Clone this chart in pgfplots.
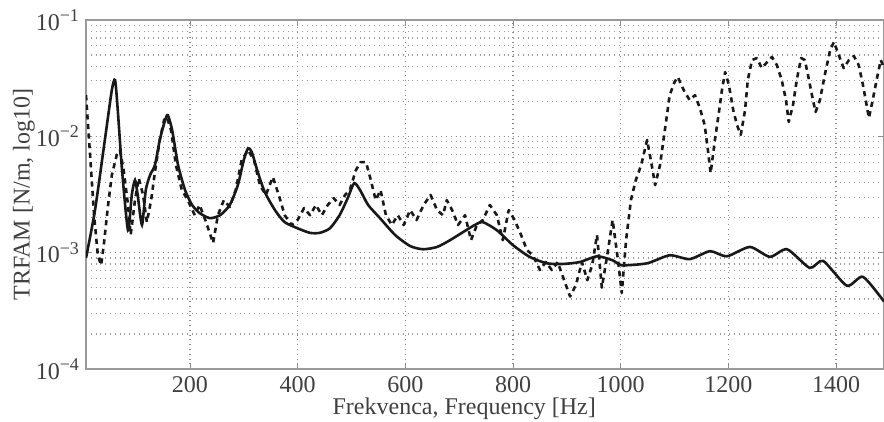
\documentclass[border=0pt]{standalone}
\usepackage{fontspec}
\setmainfont{Liberation Serif}
\usepackage{pgfplots}
\pgfplotsset{compat=1.18}
\newcommand{\pw}[1]{10\raisebox{0.8ex}{\fontsize{9}{10}\selectfont #1}}
\begin{document}
\begin{tikzpicture}
\begin{axis}[
  scale only axis, width=399pt, height=174.5pt,
  xmin=7, xmax=1489, ymode=log, ymin=1e-4, ymax=1e-1,
  xtick={200,400,600,800,1000,1200,1400},
  xticklabels={200,400,600,800,1000,1200,1400},
  ytick={1e-4,1e-3,1e-2,1e-1},
  yticklabels={\pw{−4},\pw{−3},\pw{−2},\pw{−1}},
  tick label style={font=\fontsize{12}{14}\selectfont, text=black!75},
  xlabel={Frekvenca, Frequency [Hz]},
  ylabel={TRFAM [N/m, log10]},
  label style={font=\fontsize{12}{14}\selectfont, text=black!75},
  xlabel style={at={(axis description cs:0.474,0)}, anchor=north, yshift=-11pt},
  ylabel style={at={(axis description cs:-0.0777,0.5)}, anchor=center},
  axis line style={black!40, line width=0.8pt},
  tick style={black!45},
  tick align=inside, major tick length=3pt, minor tick length=0pt,
  xmajorgrids, ymajorgrids, yminorgrids,
  major grid style={dotted, black!45, line width=0.6pt},
  minor grid style={dotted, black!40, line width=0.6pt},
  axis on top=false,
]
% solid curve
\addplot[black!90, line width=1.3pt, smooth, tension=0.4] coordinates {
(7,9.0e-4) (23.6,2.3e-3) (42,9.3e-3) (55,2.5e-2) (61,3.05e-2) (66,1.68e-2)
(74,5.1e-3) (85,1.56e-3) (92,3.13e-3) (98,4.2e-3) (103,3.13e-3) (111,1.73e-3)
(118,3.45e-3) (126,4.65e-3) (135,5.66e-3) (144,9.3e-3) (154,1.38e-2) (159,1.52e-2)
(167,1.13e-2) (178,5.66e-3) (191,3.45e-3) (204,2.57e-3) (218,2.19e-3) (237,1.98e-3)
(256,2.10e-3) (274,2.57e-3) (289,3.81e-3) (300,6.25e-3) (308,7.9e-3) (315,7.3e-3)
(326,4.93e-3) (339,3.32e-3) (358,2.32e-3) (376,1.83e-3) (400,1.62e-3) (423,1.48e-3)
(441,1.48e-3) (460,1.62e-3) (478,2.10e-3) (493,2.94e-3) (505,3.96e-3) (516,3.45e-3)
(531,2.57e-3) (553,1.98e-3) (581,1.42e-3) (609,1.14e-3) (633,1.07e-3) (659,1.12e-3)
(683,1.28e-3) (707,1.50e-3) (729,1.73e-3) (744,1.83e-3) (770,1.56e-3) (800,1.16e-3)
(831,9.2e-4) (863,8.1e-4) (893,8.0e-4) (924,8.3e-4) (956,9.3e-4) (985,8.6e-4)
(1002,7.8e-4) (1049,8.1e-4) (1091,9.5e-4) (1128,8.8e-4) (1166,1.03e-3) (1197,9.3e-4)
(1240,1.12e-3) (1277,9.2e-4) (1309,1.07e-3) (1351,7.4e-4) (1376,8.5e-4) (1420,5.2e-4)
(1450,6.2e-4) (1489,3.8e-4)
};
% dashed curve
\addplot[black!90, line width=1.3pt, dash pattern=on 2.6pt off 2.2pt, line join=round] coordinates {
(7,2.26e-2) (14,7.6e-3) (22,2.10e-3) (29,9.5e-4) (35,7.8e-4) (40,1.16e-3)
(48,2.57e-3) (55,4.65e-3) (64,6.9e-3) (70,7.6e-3) (77,5.1e-3) (85,2.57e-3)
(90,1.42e-3) (98,2.83e-3) (105,4.37e-3) (113,3.13e-3) (120,1.83e-3) (128,2.83e-3)
(135,4.93e-3) (144,9.3e-3) (152,1.38e-2) (157,1.47e-2) (165,1.13e-2) (174,5.66e-3)
(185,3.45e-3) (196,2.83e-3) (209,2.10e-3) (218,2.57e-3) (230,1.83e-3) (243,1.21e-3)
(252,2.10e-3) (263,2.83e-3) (274,2.47e-3) (285,3.45e-3) (296,6.25e-3) (308,7.6e-3)
(319,6.25e-3) (330,3.81e-3) (341,3.13e-3) (354,4.47e-3) (365,3.13e-3) (376,2.10e-3)
(389,1.73e-3) (400,1.91e-3) (412,2.42e-3) (423,2.10e-3) (434,2.57e-3) (445,2.10e-3)
(456,2.57e-3) (467,2.94e-3) (478,2.57e-3) (488,3.13e-3) (497,3.45e-3) (508,5.1e-3)
(517,6.0e-3) (527,6.0e-3) (536,4.2e-3) (545,2.83e-3) (554,3.45e-3) (564,2.10e-3)
(575,1.73e-3) (586,2.10e-3) (597,1.73e-3) (609,2.32e-3) (621,1.91e-3) (634,2.57e-3)
(647,3.13e-3) (659,2.32e-3) (670,2.10e-3) (677,2.83e-3) (687,2.32e-3) (698,1.73e-3)
(711,2.10e-3) (722,1.28e-3) (733,1.73e-3) (744,1.91e-3) (757,2.57e-3) (770,2.10e-3)
(781,1.28e-3) (792,2.32e-3) (803,1.91e-3) (815,1.42e-3) (826,1.05e-3) (837,9.5e-4)
(850,7.1e-4) (861,8.3e-4) (872,7.1e-4) (883,8.3e-4) (895,5.8e-4) (906,4.2e-4)
(917,5.3e-4) (928,8.3e-4) (938,5.8e-4) (947,7.8e-4) (956,1.42e-3) (965,5.0e-4)
(975,9.5e-4) (985,1.91e-3) (995,8.6e-4) (1002,4.5e-4) (1010,1.28e-3) (1019,2.83e-3)
(1028,4.2e-3) (1038,5.66e-3) (1049,9.3e-3) (1056,6.25e-3) (1064,3.81e-3) (1073,5.66e-3)
(1082,1.13e-2) (1091,2.26e-2) (1100,2.93e-2) (1106,3.24e-2) (1117,2.5e-2) (1128,2.05e-2)
(1138,2.26e-2) (1147,1.75e-2) (1156,1.25e-2) (1162,7.6e-3) (1167,4.83e-3) (1175,9.3e-3)
(1183,1.68e-2) (1188,2.5e-2) (1194,3.57e-2) (1201,2.76e-2) (1209,1.68e-2) (1216,1.25e-2)
(1223,1.03e-2) (1231,1.68e-2) (1236,3.05e-2) (1244,4.53e-2) (1253,4.71e-2) (1262,3.86e-2)
(1272,4.35e-2) (1281,4.81e-2) (1290,4.10e-2) (1299,3.05e-2) (1307,2.05e-2) (1312,1.33e-2)
(1320,1.86e-2) (1327,3.05e-2) (1335,4.71e-2) (1342,4.53e-2) (1349,3.17e-2) (1357,2.05e-2)
(1362,1.62e-2) (1370,2.05e-2) (1379,3.36e-2) (1389,5.52e-2) (1396,6.47e-2) (1405,5.0e-2)
(1414,3.86e-2) (1424,4.53e-2) (1433,4.9e-2) (1442,4.1e-2) (1450,2.76e-2) (1455,2.05e-2)
(1461,1.44e-2) (1468,2.05e-2) (1476,3.17e-2) (1483,4.53e-2) (1489,3.86e-2)
};
\end{axis}
\pgfresetboundingbox
\path ([xshift=-43pt,yshift=-26.5pt]current axis.south west) rectangle ([yshift=10pt]current axis.north east);
\end{tikzpicture}
\end{document}
